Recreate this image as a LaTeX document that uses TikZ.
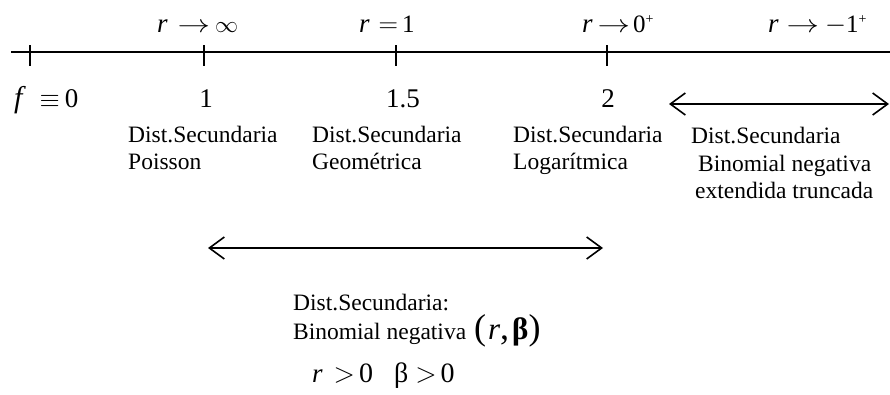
\RequirePackage{fix-cm}
\documentclass[tikz,border=0pt]{standalone}
\usepackage{fontspec}
\setmainfont{Liberation Serif}
\usetikzlibrary{arrows.meta}
\newcommand{\fsz}[1]{\fontsize{#1}{#1}\selectfont}
\newcommand{\rv}{{\fsz{27}\itshape r}}
\newcommand{\arr}{\scalebox{1.3}[1]{\fsz{25}$\rightarrow$}}
\newcommand{\plussup}{\raisebox{9pt}{\fsz{14}+}}
\begin{document}
\begin{tikzpicture}[x=1pt,y=-1pt,
  axisline/.style={line width=1.6pt},
  tick/.style={line width=1.6pt},
  mathtop/.style={inner sep=0pt, anchor=base west, font=\fsz{25}},
  numlbl/.style={inner sep=0pt, anchor=base, font=\fsz{27}},
  dist/.style={inner sep=0pt, anchor=base west, font=\fontsize{23.5}{27}\selectfont},
  dbl/.style={line width=1.6pt, {Straight Barb[length=15pt,width=22pt]}-{Straight Barb[length=15pt,width=22pt]}}
]
\useasboundingbox (0,0) rectangle (890,394);
% axis
\coordinate (axL) at (11,52);
\coordinate (axR) at (890,52);
\draw[axisline] (axL) -- (axR);
\foreach \n/\x in {t0/30,t1/204,t2/396,t3/607}{
  \coordinate (\n a) at (\x,45);
  \coordinate (\n b) at (\x,66);
  \draw[tick] (\n a) -- (\n b);
}
% top labels
\node[mathtop] (rinf) at (157,32) {\rv\hspace{10pt}\arr\hspace{5pt}{\fsz{23}$\infty$}};
\node[mathtop] (rone) at (359,32) {\rv\hspace{9pt}{\fsz{27}$=$}\hspace{4pt}{\fsz{25}1}};
\node[mathtop] (rzero) at (582,32) {\rv\hspace{5pt}\arr\hspace{3pt}{\fsz{25}0\plussup}};
\node[mathtop] (rmone) at (768,32) {\rv\hspace{8pt}\arr\hspace{6pt}{\fsz{27}$-$}{\fsz{25}1\plussup}};
% numbers
\node[inner sep=0pt, anchor=base west, font=\fsz{24}] (f0) at (14,107) {{\fsz{30}\itshape f}\hspace{17pt}{\fsz{26}$\equiv$}\hspace{5pt}{\fsz{27}0}};
\node[numlbl] (n1) at (206,107) {1};
\node[numlbl] (n15) at (403,107) {1.5};
\node[numlbl] (n2) at (608,107) {2};
% secondary distributions
\node[dist] (d1a) at (128,142) {Dist.Secundaria};
\node[dist] (d1b) at (128,169) {Poisson};
\node[dist] (d2a) at (312,142) {Dist.Secundaria};
\node[dist] (d2b) at (312,169) {Geométrica};
\node[dist] (d3a) at (513,142) {Dist.Secundaria};
\node[dist] (d3b) at (513,169) {Logarítmica};
\node[dist] (d4a) at (691,143) {Dist.Secundaria};
\node[dist] (d4b) at (698,171) {Binomial negativa};
\node[dist] (d4c) at (695,198) {extendida truncada};
% arrows
\coordinate (a1L) at (669,104);
\coordinate (a1R) at (889,104);
\draw[dbl] (a1L) -- (a1R);
\coordinate (a2L) at (208,248);
\coordinate (a2R) at (603,248);
\draw[dbl] (a2L) -- (a2R);
% lower block
\node[dist] (bn1) at (293,310) {Dist.Secundaria:};
\node[dist] (bn2) at (293,339) {Binomial negativa\hspace{8pt}{\fsz{36}(\hspace{2pt}{\fsz{31}\itshape r},\hspace{3pt}{\fsz{31}\bfseries β})}};
\node[inner sep=0pt, anchor=base west, font=\fsz{28}] (bn3) at (312,382) {\rv\hspace{11pt}$>$\hspace{4pt}0\hspace{21pt}β\hspace{7pt}$>$\hspace{4pt}0};
\end{tikzpicture}
\end{document}
